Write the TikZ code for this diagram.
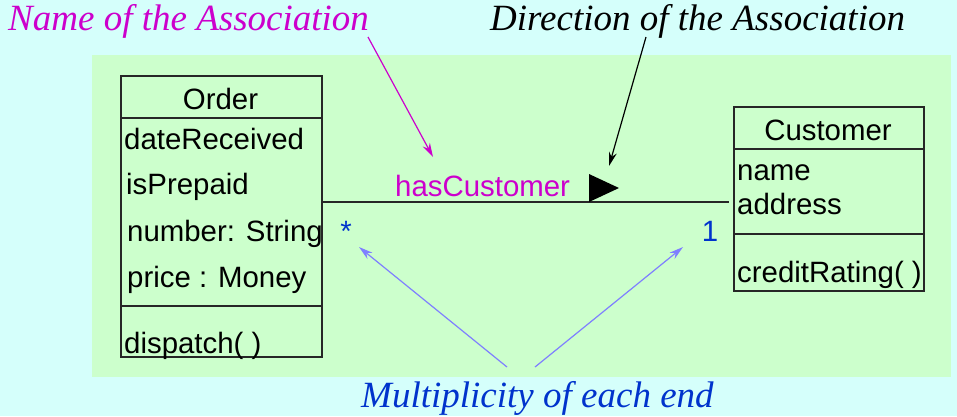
\documentclass[tikz,border=0pt]{standalone}
\usepackage{fontspec}
\usepackage{xcolor}
\usetikzlibrary{arrows.meta}
\setmainfont{Liberation Sans}
\newfontfamily\notefont{Liberation Serif}
\definecolor{sky}{HTML}{D5FFFB}
\definecolor{mint}{HTML}{CCFFCC}
\definecolor{assoc}{HTML}{CC00CC}
\definecolor{mult}{HTML}{0033CC}
\definecolor{ptrblue}{HTML}{7F7FFF}

\begin{document}
\begin{tikzpicture}[x=1pt,y=-1pt,
  classbox/.style={draw=black!85,line width=1.5pt,anchor=north west,inner sep=0pt},
  member/.style={anchor=base west,inner sep=0pt,font=\fontsize{29.4}{32}\selectfont},
  note/.style={anchor=base west,inner sep=0pt,font=\notefont\itshape\fontsize{37}{40}\selectfont},
  pointer/.style={-{Stealth[length=14pt,width=8pt]},line width=1.2pt}]
\useasboundingbox (0,0) rectangle (957,416);
\fill[sky] (0,0) rectangle (957,416);
\fill[mint] (92,55) rectangle (951,377);
\node[classbox,minimum width=201pt,minimum height=281pt] (order) at (120,75) {};
\draw[black!85,line width=1.5pt] (120,118) -- (321,118) (120,306) -- (321,306);
\node[member,anchor=base] (orderName) at (220.5,109) {Order};
\node[member] (dateReceived) at (124,149) {dateReceived};
\node[member] (isPrepaid) at (126,194) {isPrepaid};
\node[member] (number) at (127,241) {number: String};
\node[member] (price) at (127,287) {price : Money};
\node[member] (dispatch) at (124,353) {dispatch( )};
\node[classbox,minimum width=190pt,minimum height=184pt] (customer) at (733,106) {};
\draw[black!85,line width=1.5pt] (733,149) -- (923,149) (733,234) -- (923,234);
\node[member,anchor=base] (customerName) at (828,140) {Customer};
\node[member] (name) at (737,180) {name};
\node[member] (address) at (737,214) {address};
\node[member] (creditRating) at (737,282) {creditRating( )};
\coordinate (orderEnd) at (321,202);
\coordinate (customerEnd) at (729,202);
\draw[black!85,line width=1.5pt] (orderEnd) -- (customerEnd);
\fill (589,174) -- (619,188) -- (589,202) -- cycle;
\node[member,text=assoc] (hasCustomer) at (395,196) {hasCustomer};
\node[member,text=mult,anchor=base] (many) at (346,241) {*};
\node[member,text=mult,anchor=base] (one) at (710,241) {1};
\node[note,text=assoc] (nameNote) at (8,30) {Name of the Association};
\node[note,text=black] (directionNote) at (490,30) {Direction of the Association};
\node[note,text=mult] (multNote) at (361,407) {Multiplicity of each end};
\coordinate (nameFrom) at (368,37);
\coordinate (nameTo) at (433,157);
\coordinate (dirFrom) at (646,37);
\coordinate (dirTo) at (609,166);
\coordinate (manyFrom) at (507,367);
\coordinate (manyTo) at (359,247);
\coordinate (oneFrom) at (535,367);
\coordinate (oneTo) at (683,247);
\draw[pointer,assoc] (nameFrom) -- (nameTo);
\draw[pointer,black] (dirFrom) -- (dirTo);
\draw[pointer,ptrblue] (manyFrom) -- (manyTo);
\draw[pointer,ptrblue] (oneFrom) -- (oneTo);
\end{tikzpicture}
\end{document}
